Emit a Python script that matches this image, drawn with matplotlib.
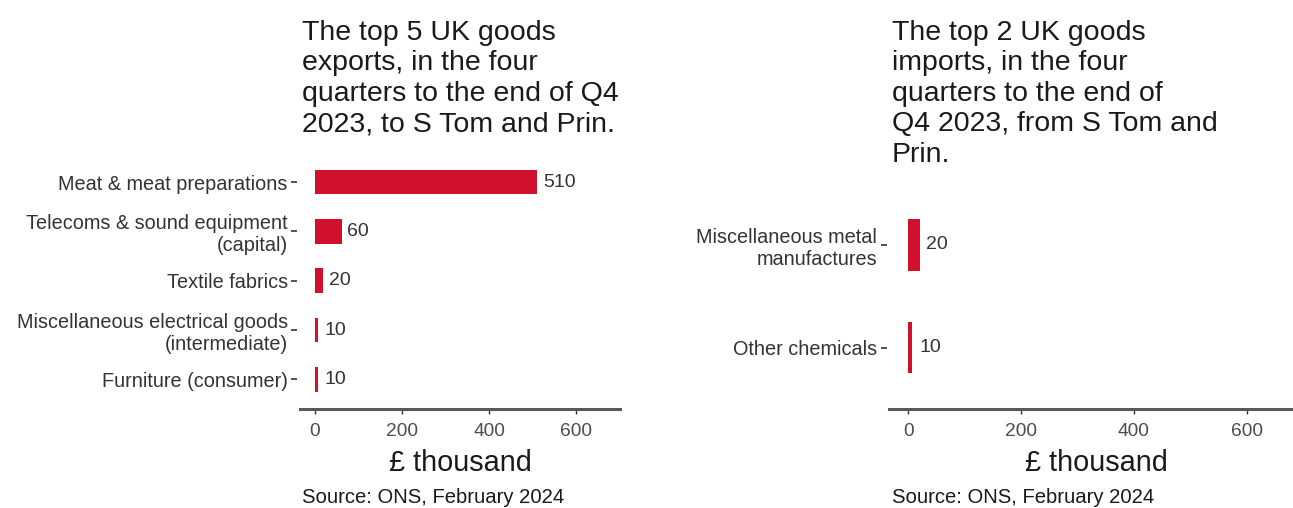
import matplotlib.pyplot as plt

# exports panel
exp_cats = ["Meat & meat preparations",
            "Telecoms & sound equipment\n(capital)",
            "Textile fabrics",
            "Miscellaneous electrical goods\n(intermediate)",
            "Furniture (consumer)"]
exp_vals = [510, 62, 20, 7, 7]
exp_labels = [510, 60, 20, 10, 10]

# imports panel
imp_cats = ["Miscellaneous metal\nmanufactures", "Other chemicals"]
imp_vals = [20, 7]
imp_labels = [20, 10]

x_ticks = [0, 200, 400, 600]
x_lim = (-33.3, 700)

exp_title = "The top 5 UK goods\nexports, in the four\nquarters to the end of Q4\n2023, to S Tom and Prin."
imp_title = "The top 2 UK goods\nimports, in the four\nquarters to the end of\nQ4 2023, from S Tom and\nPrin."
x_title = "£ thousand"
source = "Source: ONS, February 2024"

bar_col = "#D0102C"

plt.rcParams["font.family"] = ["Liberation Sans", "DejaVu Sans"]

W, H = 1293, 508
fig = plt.figure(figsize=(W / 100, H / 100), dpi=100)


def panel(rect, cats, vals, labels, title):
    ax = fig.add_axes(rect)
    n = len(cats)
    ys = [n - i for i in range(n)]
    ax.barh(ys, vals, height=0.5, color=bar_col)
    for y, lab in zip(ys, labels):
        ax.annotate(str(lab), xy=(lab, y), xytext=(4.3, 0), textcoords="offset points",
                    ha="left", va="center", fontsize=14, color="#333333")
    ax.set_xlim(*x_lim)
    ax.set_ylim(0.4, n + 0.6)
    ax.set_yticks(ys)
    ax.set_yticklabels(cats)
    ax.set_xticks(x_ticks)
    for s in ["top", "right"]:
        ax.spines[s].set_visible(False)
    ax.spines["left"].set_visible(False)
    ax.spines["left"].set_position(("outward", 2))
    ax.spines["bottom"].set_color("#595959")
    ax.spines["bottom"].set_linewidth(2.2)
    ax.tick_params(axis="y", length=4.3, width=1.2, color="#333333", pad=2.5,
                   labelsize=14.3, labelcolor="#333333")
    ax.tick_params(axis="x", length=3.5, width=1.0, color="#333333", pad=6.5,
                   labelsize=13.8, labelcolor="#4D4D4D")
    l, b, w, h = rect
    fig.text(l + 2 / W, 1 - 20 / H, title, ha="left", va="top", fontsize=20.5,
             linespacing=1.22, color="#1A1A1A")
    fig.text(l + w / 2, 1 - 471 / H, x_title, ha="center", va="baseline",
             fontsize=20.8, color="#1A1A1A")
    fig.text(l + 2 / W, 1 - 503 / H, source, ha="left", va="baseline",
             fontsize=14.6, color="#1A1A1A")
    return ax


bottom = (H - 409.1) / H
panel([300 / W, bottom, 320 / W, (409.1 - 152.4) / H], exp_cats, exp_vals, exp_labels, exp_title)
panel([889.5 / W, bottom, 413.5 / W, (409.1 - 183.4) / H], imp_cats, imp_vals, imp_labels, imp_title)

fig.savefig("out.png", dpi=100)
